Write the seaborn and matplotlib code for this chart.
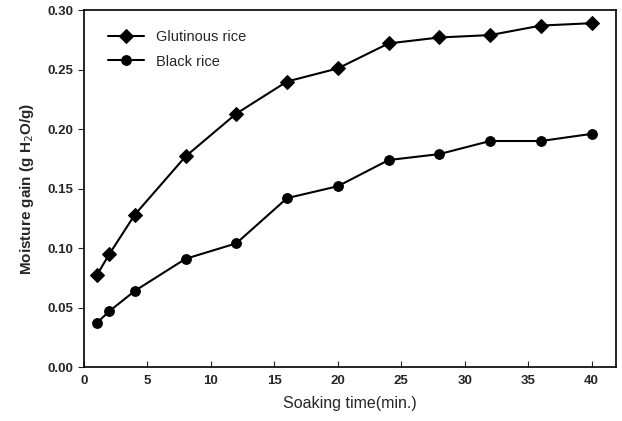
import matplotlib
matplotlib.use("Agg")
import matplotlib.pyplot as plt
import seaborn as sns
import pandas as pd

time = [1, 2, 4, 8, 12, 16, 20, 24, 28, 32, 36, 40]
glutinous = [0.077, 0.095, 0.128, 0.177, 0.213, 0.240, 0.251, 0.272, 0.277, 0.279, 0.287, 0.289]
black = [0.037, 0.047, 0.064, 0.091, 0.104, 0.142, 0.152, 0.174, 0.179, 0.190, 0.190, 0.196]
series_names = ["Glutinous rice", "Black rice"]

df = pd.concat([
    pd.DataFrame({"time": time, "gain": glutinous, "series": series_names[0]}),
    pd.DataFrame({"time": time, "gain": black, "series": series_names[1]}),
])

sns.set_style("ticks")
plt.rcParams['font.family'] = ['Liberation Sans', 'DejaVu Sans']

fig = plt.figure(figsize=(6.22, 4.21), dpi=100)
ax = fig.add_axes([0.135, 0.128, 0.855, 0.848])

sns.lineplot(data=df, x="time", y="gain", hue="series", style="series",
             markers={series_names[0]: "D", series_names[1]: "o"}, dashes=False,
             palette={series_names[0]: "black", series_names[1]: "black"},
             markersize=7, linewidth=1.5, markeredgecolor="black", ax=ax)

ax.set_xlim(0, 41.9)
ax.set_ylim(0, 0.30)
ax.set_xticks([0, 5, 10, 15, 20, 25, 30, 35, 40])
ax.set_yticks([0.0, 0.05, 0.10, 0.15, 0.20, 0.25, 0.30])
ax.set_yticklabels(["0.00", "0.05", "0.10", "0.15", "0.20", "0.25", "0.30"])
ax.tick_params(axis="x", direction="in", length=4, labelsize=9.5, pad=6)
ax.tick_params(axis="y", direction="out", length=4, labelsize=9.5)
for lab in ax.get_xticklabels() + ax.get_yticklabels():
    lab.set_fontweight("bold")
for s in ax.spines.values():
    s.set_linewidth(1.2)
    s.set_color("black")

ax.set_xlabel("Soaking time(min.)", fontsize=11.5, labelpad=6)
ax.set_ylabel("Moisture gain (g H$_2$O/g)", fontsize=11, labelpad=8, fontweight="bold")

leg = ax.legend(loc="upper left", frameon=False, fontsize=10.5, handlelength=2.5,
                bbox_to_anchor=(0.02, 0.98), labelspacing=0.7)

fig.savefig("out.png", dpi=100)
